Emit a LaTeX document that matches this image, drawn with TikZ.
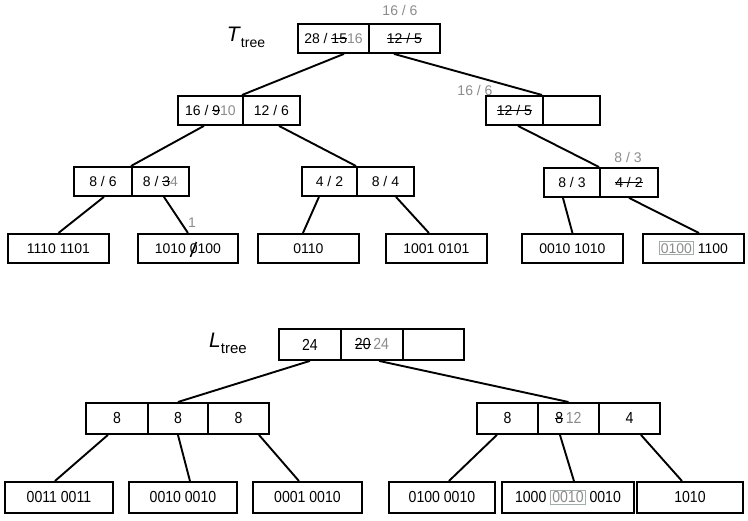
\documentclass[tikz,border=0pt]{standalone}
\usepackage{fontspec}
\setmainfont{Liberation Sans}
\newfontfamily\narrowfont[FakeStretch=0.88]{Liberation Sans}
\usetikzlibrary{calc}
\usepackage{xcolor}
\definecolor{notegray}{HTML}{8C8C8C}
\definecolor{boxgray}{HTML}{A3ACAC}
\newlength\strklen
\newcommand{\strk}[1]{\settowidth{\strklen}{#1}\makebox[0pt][l]{\rule[0.33em]{\strklen}{1pt}}#1}
\newcommand{\old}[1]{\textcolor{notegray}{#1}}
\newcommand{\marked}[1]{{\setlength{\fboxsep}{1pt}\setlength{\fboxrule}{1pt}\fcolorbox{boxgray}{white}{\textcolor{notegray}{#1}}}}

\begin{document}
\begin{tikzpicture}[x=1pt,y=-1pt,
  cell/.style={draw,line width=1.9pt,inner sep=0pt,anchor=north west,
               font=\fontsize{14}{16}\selectfont},
  lcell/.style={cell,font=\narrowfont\fontsize{16}{18}\selectfont},
  edge/.style={line width=1.9pt},
  note/.style={text=notegray,inner sep=0pt,font=\fontsize{14}{16}\selectfont}]
  \useasboundingbox[fill=white] (0,0) rectangle (748,521);
  % T tree
  \foreach \n/\x/\y/\w/\txt in {
    troota/297/23/71/{28 / \strk{15}\old{16}},
    trootb/368/23/71/{\strk{12 / 5}},
    tla/177/95/65/{16 / \strk{9}\old{10}},
    tlb/242/95/57/{12 / 6},
    tra/485/95/57/{\strk{12 / 5}},
    trb/542/95/57/{},
    tlla/73/166/58/{8 / 6},
    tllb/131/166/57/{8 / \strk{3}\old{4}},
    tlma/301/166/55/{4 / 2},
    tlmb/356/166/57/{8 / 4},
    tlra/543/167/56/{8 / 3},
    tlrb/599/167/58/{\strk{4 / 2}},
    tleafa/7/233/101/{1110 1101},
    tleafb/137/233/100/{1010 0100},
    tleafc/257/233/101/{0110},
    tleafd/385/233/101/{1001 0101},
    tleafe/521/233/101/{0010 1010},
    tleaff/642/233/101/{\marked{0100} 1100}} {
    \node[cell,minimum width=\w pt,minimum height=29pt] (\n) at (\x,\y) {\txt};
  }
  \node (tlabel) at (246,37) {{\fontsize{21}{24}\selectfont\textit{T}}\raisebox{-6pt}{\fontsize{14}{16}\selectfont tree}};
  \node[note] (rootnote) at (400,11) {16 / 6};
  \node[note] (trnote) at (475,90) {16 / 6};
  \node[note] (tlrnote) at (628,157) {8 / 3};
  \node[note] (leafnote) at (192,223) {1};
  \draw[edge] ([xshift=10.5pt]troota.south) -- (tlb.north west);
  \draw[edge] ([xshift=-10.5pt]trootb.south) -- (trb.north west);
  \draw[edge] ([xshift=-6.5pt]tla.south) -- (tllb.north west);
  \draw[edge] ([xshift=7.5pt]tlb.south) -- (tlmb.north west);
  \draw[edge] ([xshift=3.5pt]tra.south) -- (tlrb.north west);
  \draw[edge] ([xshift=1pt]tlla.south) -- (tleafa.north);
  \draw[edge] ([xshift=3.5pt]tllb.south) -- (tleafb.north);
  \draw[edge] ([xshift=-10.5pt]tlma.south) -- ([xshift=-5.5pt]tleafc.north);
  \draw[edge] ([xshift=10.5pt]tlmb.south) -- ([xshift=-7.5pt]tleafd.north);
  \draw[edge] ([xshift=-9pt]tlra.south) -- (tleafe.north);
  \draw[edge] (tlrb.south) -- ([xshift=5.5pt]tleaff.north);
  \draw[line width=1.5pt] ($(tleafb.center)+(2.5,8.5)$) -- ($(tleafb.center)+(8.5,-6.5)$);
  % L tree
  \foreach \n/\x/\y/\w/\txt in {
    lroota/278/328/62/{24},
    lrootb/340/328/62/{\strk{20}\,\old{24}},
    lrootc/402/328/61/{},
    lla/85/402/62/{8},
    llb/147/402/60/{8},
    llc/207/402/61/{8},
    lra/476/402/61/{8},
    lrb/537/402/61/{\strk{8}\,\old{12}},
    lrc/598/402/61/{4},
    lleafa/4/481/108/{0011 0011},
    lleafb/128/481/108/{0010 0010},
    lleafc/252/481/109/{0001 0010},
    lleafd/388/481/106/{0100 0010},
    lleafe/501/481/132/{1000 \marked{0010} 0010},
    lleaff/636/481/106/{1010}} {
    \node[lcell,minimum width=\w pt,minimum height=31pt] (\n) at (\x,\y) {\txt};
  }
  \node (llabel) at (228,343) {{\fontsize{21}{24}\selectfont\textit{L}}\raisebox{-6pt}{\fontsize{15}{17}\selectfont tree}};
  \draw[edge] (lroota.south) -- (llb.north);
  \draw[edge] ([xshift=7pt]lrootb.south) -- (lrb.north);
  \draw[edge] ([xshift=-9pt]lla.south) -- ([xshift=-4pt]lleafa.north);
  \draw[edge] (llb.south) -- ([xshift=7pt]lleafb.north);
  \draw[edge] ([xshift=20.5pt]llc.south) -- ([xshift=-8.5pt]lleafc.north);
  \draw[edge] ([xshift=-10.5pt]lra.south) -- ([xshift=7pt]lleafd.north);
  \draw[edge] ([xshift=-8.5pt]lrb.south) -- ([xshift=6pt]lleafe.north);
  \draw[edge] ([xshift=11.5pt]lrc.south) -- ([xshift=-8pt]lleaff.north);
\end{tikzpicture}
\end{document}
